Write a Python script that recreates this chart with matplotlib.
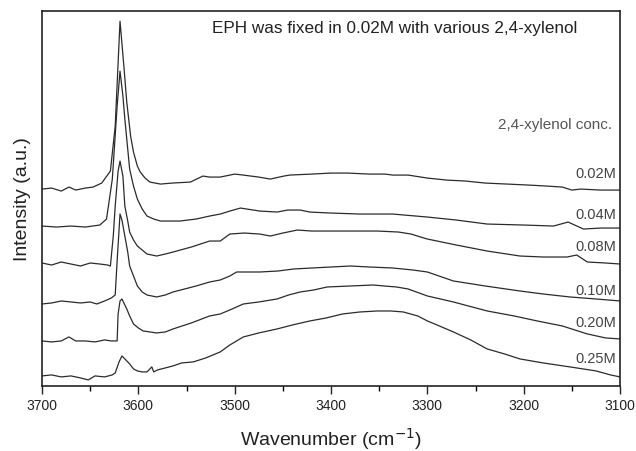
import matplotlib
matplotlib.use("Agg")
import matplotlib.pyplot as plt
from matplotlib.ticker import MultipleLocator

plt.rcParams['font.family'] = ['Liberation Sans', 'DejaVu Sans']

# spectra: wavenumber (cm-1) and intensity (a.u., offset already included)
wn_002 = [3700, 3690, 3680, 3672, 3665, 3655, 3647, 3638, 3629, 3624, 3619, 3615, 3612, 3608,
          3605, 3601, 3598, 3593, 3588, 3577, 3565, 3546, 3533, 3526, 3515, 3500, 3491, 3475,
          3463, 3449, 3443, 3420, 3400, 3383, 3360, 3344, 3336, 3320, 3300, 3280, 3260, 3240,
          3217, 3195, 3176, 3160, 3150, 3141, 3120, 3100]
i_002 = [197, 198, 195, 199, 196, 198, 199, 203, 215, 260, 365, 320, 284, 250,
         234, 220, 214, 208, 204, 202, 203, 204, 210, 209, 209, 212, 211, 209,
         207, 210, 211, 212, 213, 213, 212, 212, 211, 211, 208, 206, 205, 203,
         202, 201, 200, 199, 196, 197, 196, 196]

wn_004 = [3700, 3685, 3670, 3655, 3640, 3633, 3627, 3622, 3619, 3616, 3614, 3611, 3609, 3605,
          3601, 3596, 3591, 3584, 3577, 3565, 3557, 3540, 3526, 3515, 3505, 3494, 3474, 3456,
          3445, 3432, 3422, 3400, 3370, 3336, 3300, 3270, 3238, 3200, 3169, 3154, 3138, 3120,
          3100]
i_004 = [160, 159, 160, 159, 161, 167, 207, 280, 315, 290, 267, 237, 217, 200,
         187, 177, 170, 167, 165, 165, 165, 167, 170, 172, 175, 178, 175, 174,
         176, 176, 174, 173, 172, 172, 169, 166, 162, 161, 160, 164, 157, 158,
         158]

wn_008 = [3700, 3690, 3680, 3670, 3660, 3650, 3640, 3632, 3629, 3626, 3624, 3621, 3619, 3616,
          3614, 3611, 3609, 3605, 3601, 3596, 3591, 3581, 3572, 3564, 3545, 3526, 3515, 3505,
          3490, 3474, 3463, 3450, 3435, 3420, 3404, 3380, 3352, 3330, 3317, 3307, 3300, 3270,
          3238, 3204, 3180, 3155, 3145, 3134, 3115, 3100]
i_008 = [123, 121, 124, 122, 120, 123, 122, 121, 120, 150, 180, 215, 225, 210,
         180, 165, 154, 146, 140, 136, 132, 130, 132, 134, 139, 145, 145, 152,
         153, 152, 150, 153, 156, 155, 155, 155, 155, 154, 152, 149, 147, 141,
         135, 130, 129, 129, 131, 124, 123, 122]

wn_010 = [3700, 3690, 3680, 3670, 3660, 3650, 3643, 3635, 3628, 3624, 3622, 3619, 3617, 3614,
          3611, 3609, 3605, 3601, 3596, 3591, 3581, 3572, 3564, 3540, 3526, 3515, 3505, 3498,
          3474, 3455, 3439, 3420, 3400, 3380, 3360, 3336, 3315, 3300, 3273, 3240, 3204, 3180,
          3152, 3125, 3100]
i_010 = [82, 83, 85, 84, 83, 84, 82, 85, 88, 91, 125, 172, 166, 150,
         134, 120, 110, 100, 94, 91, 89, 91, 94, 100, 104, 106, 110, 114,
         114, 115, 117, 118, 119, 120, 119, 118, 116, 114, 105, 100, 95, 92,
         89, 87, 85]

wn_020 = [3700, 3690, 3680, 3672, 3665, 3655, 3645, 3635, 3628, 3622, 3621, 3619, 3617, 3615,
          3612, 3609, 3605, 3600, 3595, 3588, 3581, 3572, 3564, 3545, 3526, 3515, 3505, 3491,
          3475, 3456, 3444, 3432, 3418, 3404, 3380, 3356, 3345, 3332, 3320, 3300, 3273, 3238,
          3210, 3186, 3160, 3134, 3115, 3100]
i_020 = [45, 44, 45, 49, 45, 45, 44, 46, 45, 45, 72, 85, 87, 83,
         77, 70, 62, 58, 55, 54, 53, 54, 57, 63, 70, 72, 76, 82,
         84, 87, 91, 94, 96, 99, 100, 101, 100, 99, 97, 90, 84, 75,
         70, 65, 60, 52, 48, 47]

wn_025 = [3700, 3690, 3680, 3670, 3660, 3652, 3645, 3635, 3627, 3624, 3620, 3617, 3614, 3611,
          3609, 3605, 3601, 3596, 3591, 3588, 3586, 3584, 3580, 3572, 3564, 3555, 3543, 3530,
          3515, 3505, 3491, 3475, 3456, 3440, 3422, 3405, 3388, 3370, 3352, 3338, 3325, 3310,
          3300, 3290, 3273, 3255, 3238, 3220, 3204, 3180, 3152, 3125, 3110, 3100]
i_025 = [10, 11, 9, 10, 8, 6, 10, 9, 11, 13, 24, 30, 27, 24,
         22, 17, 15, 14, 14, 17, 19, 14, 16, 18, 20, 23, 24, 28,
         34, 41, 49, 53, 57, 61, 65, 68, 72, 74, 75, 75, 74, 70,
         65, 61, 54, 46, 37, 32, 27, 23, 19, 15, 11, 9]

series = [(wn_002, i_002), (wn_004, i_004), (wn_008, i_008),
          (wn_010, i_010), (wn_020, i_020), (wn_025, i_025)]

conc_labels = ['0.02M', '0.04M', '0.08M', '0.10M', '0.20M', '0.25M']
label_y = [213, 172, 140, 96, 64, 28]

fig = plt.figure(figsize=(6.36, 4.52), dpi=100)
ax = fig.add_axes([0.066, 0.144, 0.909, 0.829])

for wn, inten in series:
    ax.plot(wn, inten, color='#2b2b2b', lw=0.9)

ax.set_xlim(3700, 3100)
ax.set_ylim(0, 375)
ax.set_yticks([])
ax.xaxis.set_major_locator(MultipleLocator(100))
ax.xaxis.set_minor_locator(MultipleLocator(50))
ax.tick_params(axis='x', which='major', direction='out', length=6, width=1,
               labelsize=10, colors='#222222', pad=3)
ax.tick_params(axis='x', which='minor', direction='out', length=3.5, width=1)
for s in ax.spines.values():
    s.set_linewidth(1.2)
    s.set_color('#222222')

# concentration labels at the right end of each trace
for lab, yy in zip(conc_labels, label_y):
    ax.text(3104, yy, lab, ha='right', va='center', fontsize=10.5, color='#444444')
ax.text(3108, 262, '2,4-xylenol conc.', ha='right', va='center', fontsize=11, color='#555555')
ax.text(3334, 359, 'EPH was fixed in 0.02M with various 2,4-xylenol', ha='center', va='center',
        fontsize=12.3, color='#222222')

ax.set_xlabel('Wavenumber (cm$^{-1}$)', fontsize=14, color='#222222', labelpad=9)
ax.set_ylabel('Intensity (a.u.)', fontsize=14, color='#222222', labelpad=8)

fig.savefig('out.png', dpi=100)
